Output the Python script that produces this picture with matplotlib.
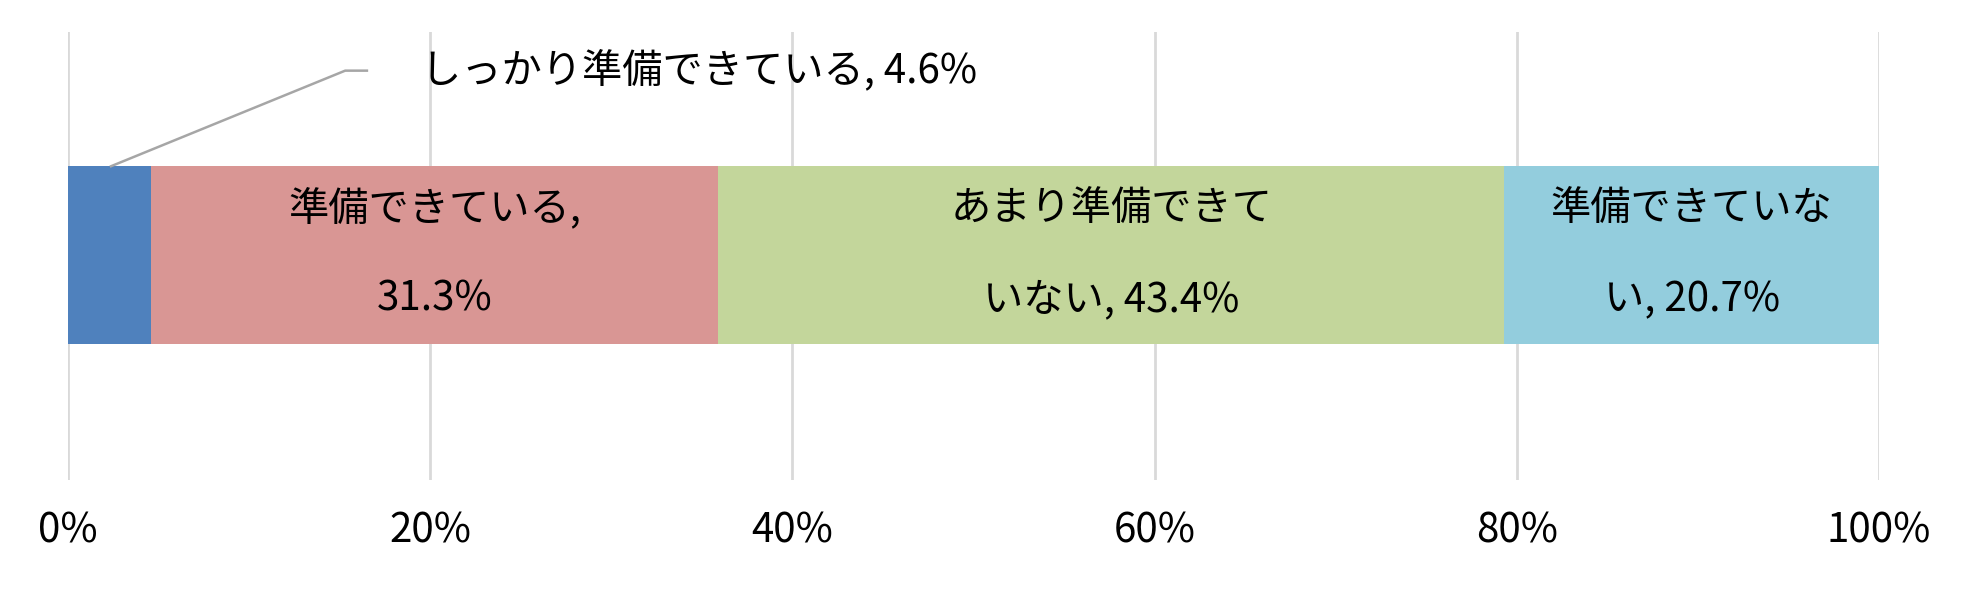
import matplotlib.pyplot as plt

plt.rcParams['font.family'] = ['Noto Sans CJK JP', 'DejaVu Sans']

values = [4.6, 31.3, 43.4, 20.7]
colors = ['#4F81BD', '#D99694', '#C3D69B', '#93CDDD']
line1 = ['', '準備できている,', 'あまり準備できて', '準備できていな']
line2 = ['', '31.3%', 'いない, 43.4%', 'い, 20.7%']
first_label = 'しっかり準備できている, 4.6%'
ticks = [0, 20, 40, 60, 80, 100]

fig = plt.figure(figsize=(19.8, 6.08), dpi=100)
ax = fig.add_axes([0.0344, 0.21, 0.9146, 0.738])

left = 0
for v, c, t1, t2 in zip(values, colors, line1, line2):
    ax.barh(0.503, v, left=left, height=0.397, color=c, zorder=3)
    mid = left + v / 2
    if t1:
        ax.text(mid, 0.606, t1, ha='center', va='center', fontsize=29, zorder=4)
        ax.text(mid, 0.403, t2, ha='center', va='center', fontsize=29, zorder=4)
    left += v

ax.plot([2.37, 15.3, 16.5], [0.70, 0.913, 0.913], color='#A6A6A6', lw=1.8, zorder=4)
ax.text(19.5, 0.913, first_label, ha='left', va='center', fontsize=29)

ax.set_xlim(0, 100)
ax.set_ylim(0, 1)
ax.set_xticks(ticks)
ax.set_xticklabels([f'{t}%' for t in ticks], fontsize=29)
ax.set_yticks([])
ax.tick_params(axis='x', length=0, pad=22)
ax.grid(axis='x', color='#D9D9D9', lw=2, zorder=0)
for s in ax.spines.values():
    s.set_visible(False)

fig.savefig('out.png')
